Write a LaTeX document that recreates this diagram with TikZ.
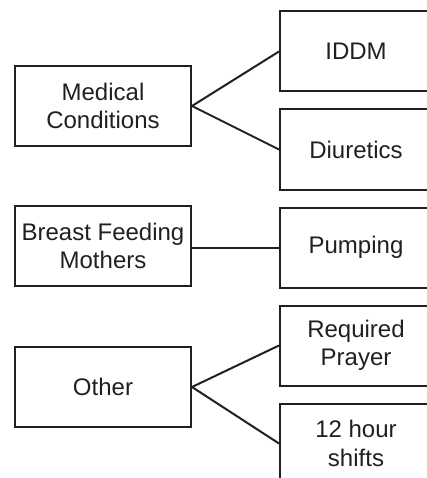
\documentclass[tikz,border=0pt]{standalone}
\usepackage{fontspec}
\setmainfont{Liberation Sans}
\usetikzlibrary{positioning}
\definecolor{ink}{HTML}{231F20}
\tikzset{main node/.style={rectangle,draw=ink,text=ink,line width=2pt,minimum width=176pt,minimum height=80pt,inner sep=0pt,align=center,font=\fontsize{24}{28.5}\selectfont},}
\tikzset{sub node/.style={main node,minimum width=152pt},}

\begin{document}
\begin{tikzpicture}[x=1pt,y=-1pt]
   \useasboundingbox (0,0) rectangle (427,478);
   \clip (0,0) rectangle (427,478);

   \node[main node] (med) at (103,106) {Medical\\Conditions};
   \node[main node] (bfm) [below = 58pt of med] {Breast Feeding\\Mothers};
   \node[main node] (oth) [below = 59pt of bfm] {Other};

   \node[sub node] (iddm) at (356,51.5) {IDDM};
   \node[sub node] (diu) [below = 16pt of iddm] {Diuretics};
   \node[sub node] (pump) [below = 16pt of diu] {Pumping};
   \node[sub node] (pray) [below = 16pt of pump] {Required\\Prayer};
   \node[sub node] (shift) [below = 16pt of pray] {12 hour\\shifts};

   \path[draw=ink,line width=2pt]
   (med.east) edge node {} (iddm.west)
   (med.east) edge node {} (diu.west)
   (bfm.east |- pump.west) edge node {} (pump.west)
   (oth.east) edge node {} (pray.west)
   (oth.east) edge node {} (shift.west);
  \end{tikzpicture}
\end{document}
